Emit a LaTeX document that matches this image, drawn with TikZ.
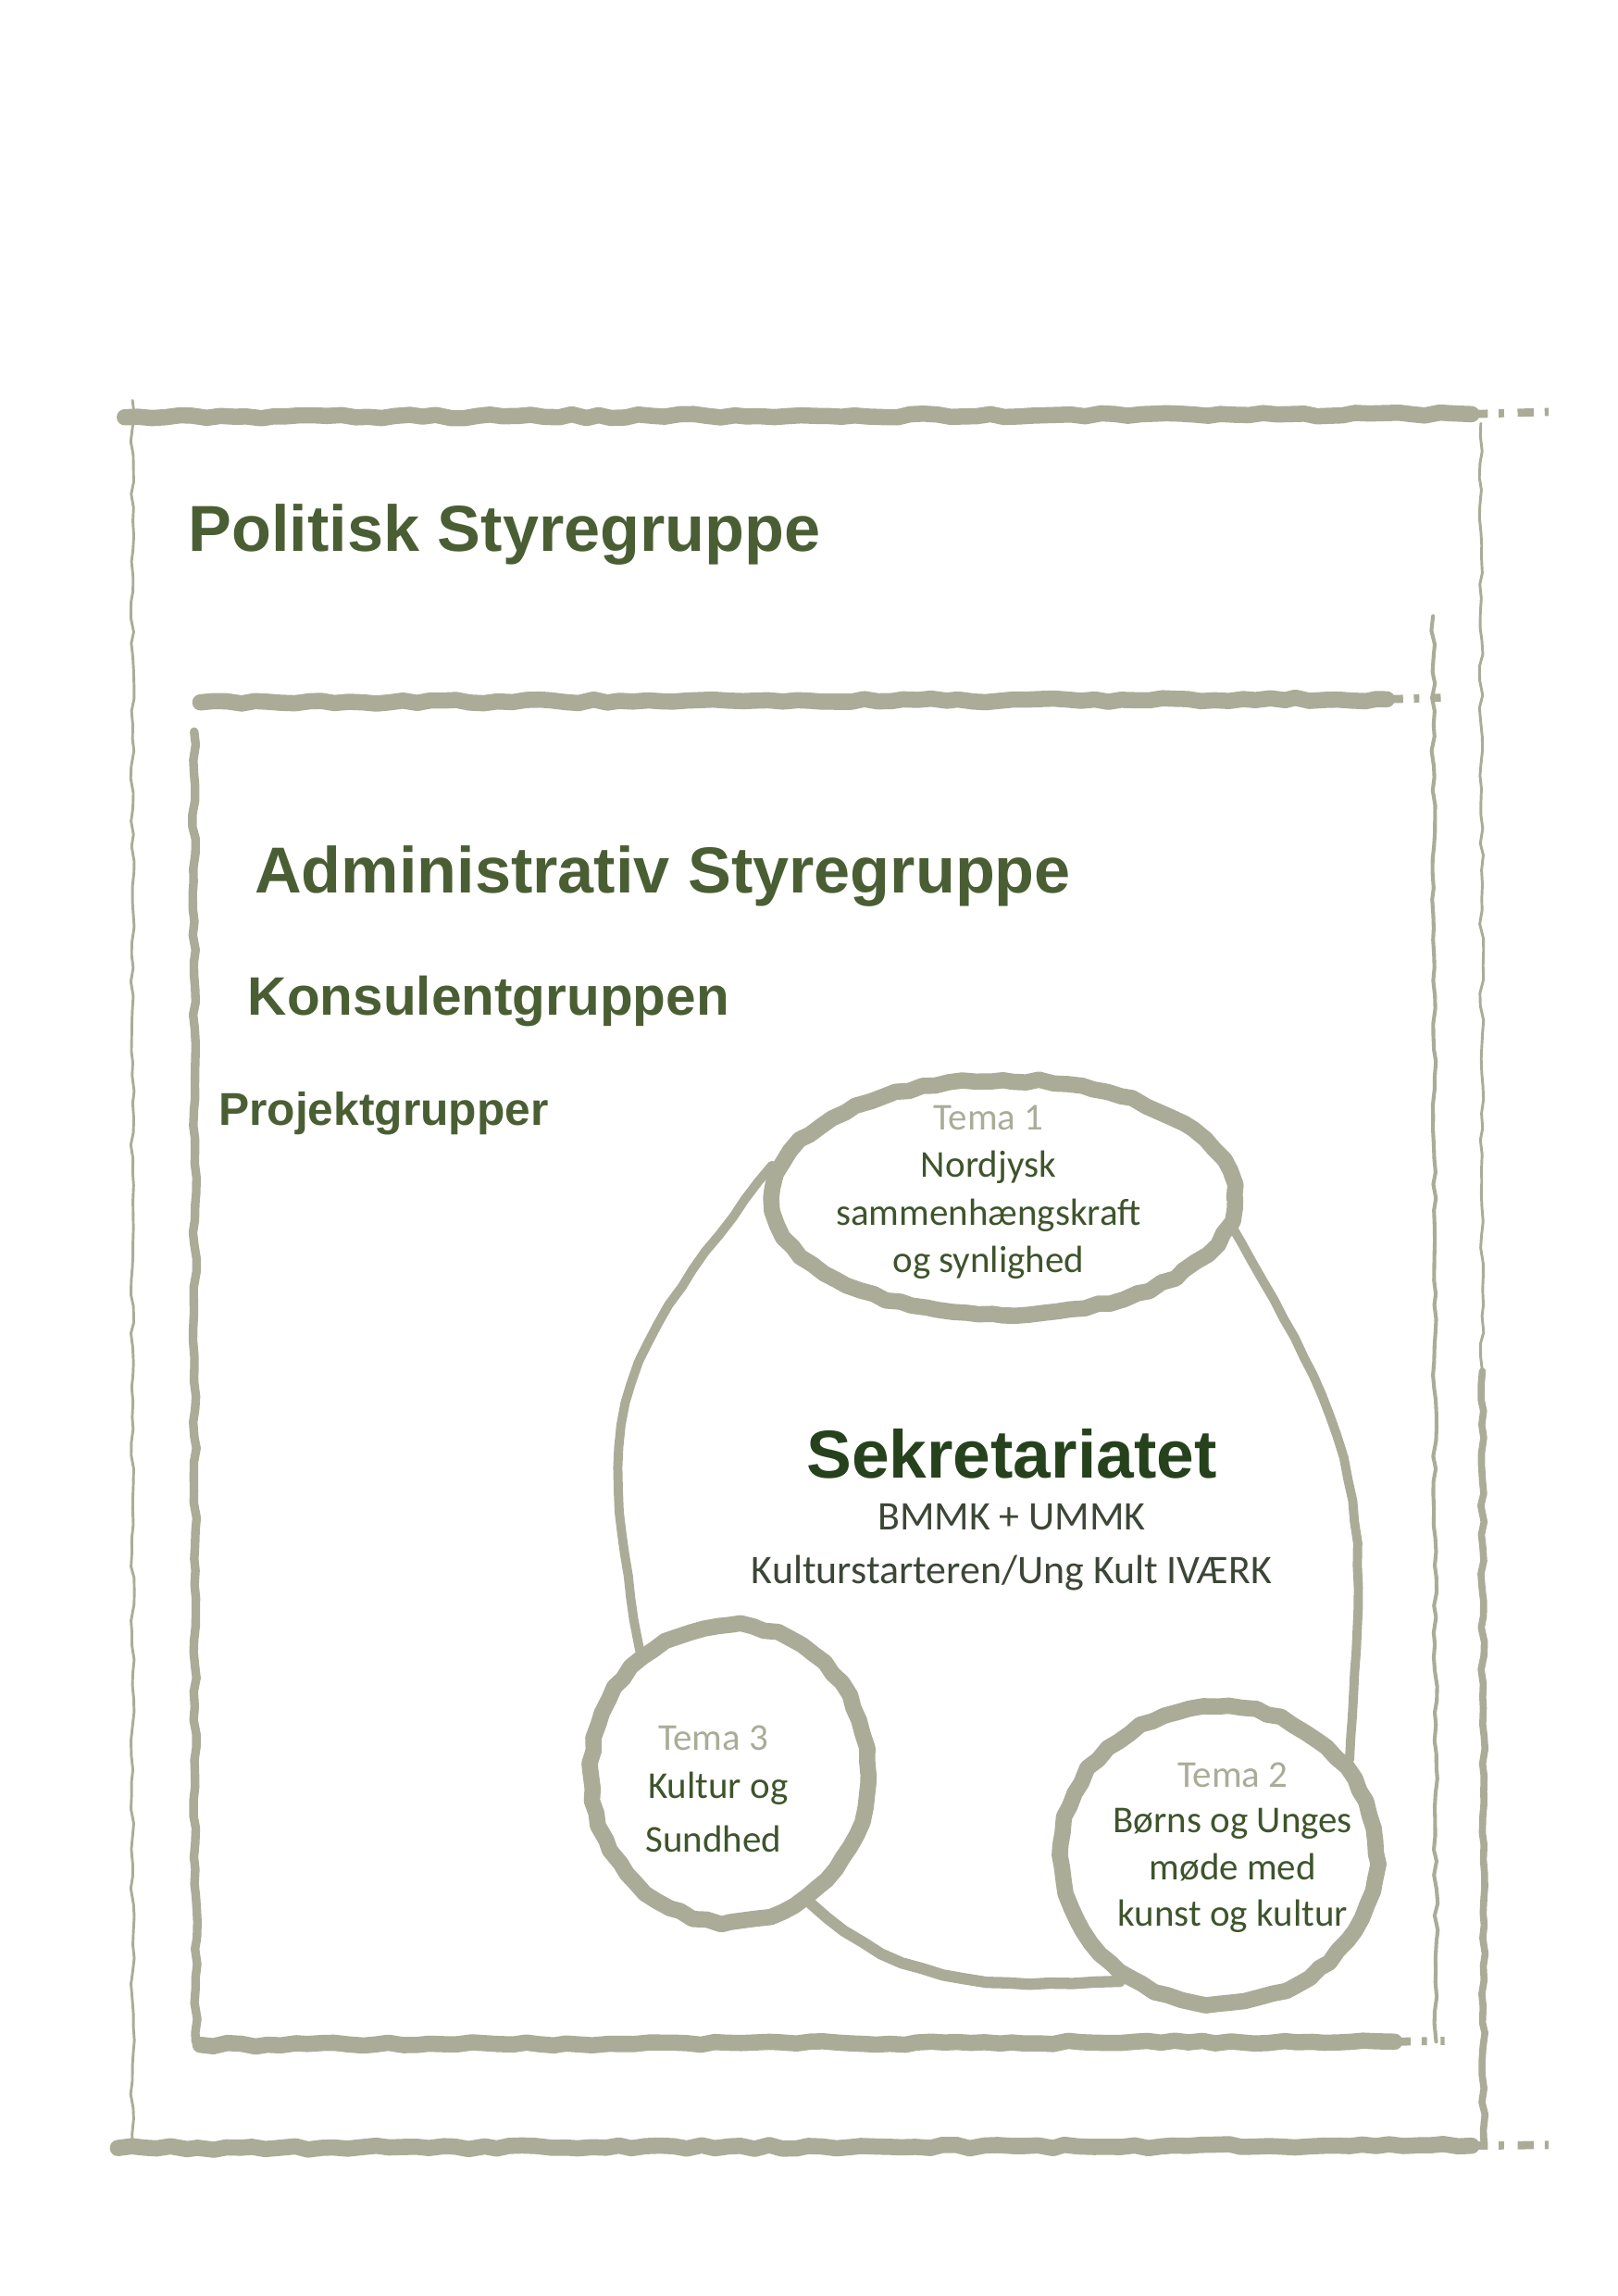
\documentclass[tikz,border=0pt]{standalone}
\usepackage{fontspec}
\setmainfont{Carlito}
\newfontfamily\arialfont{Liberation Sans}
\usetikzlibrary{shapes.geometric,decorations.pathmorphing}

\definecolor{brushgray}{RGB}{170,172,152}
\definecolor{titlegreen}{RGB}{74,94,52}
\definecolor{secgreen}{RGB}{38,66,28}
\definecolor{temagreen}{RGB}{62,84,44}
\definecolor{secgray}{RGB}{60,70,55}

\tikzset{
  brush/.style={draw=brushgray, line width=#1, line cap=round, line join=round,
    decorate, decoration={random steps, segment length=5pt, amplitude=0.7pt}},
  brushtail/.style={draw=brushgray, line width=#1, dash pattern=on 6pt off 4pt on 2pt off 5pt},
  title/.style={anchor=base west, text=titlegreen, font=\arialfont\bfseries\fontsize{24}{28}\selectfont, inner sep=0pt},
  tema/.style={ellipse, brush=#1, inner sep=0pt},
  temalabel/.style={anchor=base, text=brushgray, font=\fontsize{14}{17}\selectfont, inner sep=0pt},
  temaline/.style={anchor=base, text=temagreen, font=\fontsize{14}{17}\selectfont, inner sep=0pt},
  secline/.style={anchor=base, text=secgray, font=\fontsize{15}{18}\selectfont, inner sep=0pt},
  egg/.style={draw=brushgray, line width=#1, line cap=round,
    decorate, decoration={random steps, segment length=8pt, amplitude=0.35pt}}
}

\begin{document}
\begin{tikzpicture}
		\pgfmathsetseed{7}
		\useasboundingbox (0,0) rectangle (21,29.795);

		% outer frame: Politisk Styregruppe
		\draw[brush=6pt] (1.62,24.38) -- (19.1,24.42);
		\draw[brushtail=3pt] (19.1,24.42) -- (20.1,24.45);
		\draw[brush=6pt] (1.53,1.92) -- (19.1,1.95);
		\draw[brushtail=3pt] (19.1,1.95) -- (20.1,1.96);
		\draw[brush=1pt] (1.72,24.6) -- (1.72,1.9);
		\draw[brush=1pt] (19.22,24.3) -- (19.24,12);
		\draw[brush=2.6pt] (19.24,12) -- (19.26,2.0);

		% inner frame: Administrativ Styregruppe
		\draw[brush=6pt] (2.6,20.68) -- (18.0,20.72);
		\draw[brushtail=3pt] (18.0,20.72) -- (18.7,20.74);
		\draw[brush=6pt] (2.6,3.26) -- (18.1,3.3);
		\draw[brushtail=3pt] (18.1,3.3) -- (18.75,3.31);
		\draw[brush=3.2pt] (2.52,20.3) -- (2.54,3.3);
		\draw[brush=1.4pt] (18.6,21.8) -- (18.64,3.3);

		\node[title] (pol) at (2.44,22.64) {Politisk Styregruppe};
		\node[title] (adm) at (3.30,18.21) {Administrativ Styregruppe};
		\node[title, font=\arialfont\bfseries\fontsize{20}{24}\selectfont] (kon) at (3.21,16.62) {Konsulentgruppen};
		\node[title, font=\arialfont\bfseries\fontsize{17}{20}\selectfont] (pro) at (2.83,15.19) {Projektgrupper};

		% temaer
		\node[tema=6pt, minimum width=6.0cm, minimum height=3.05cm] (t1) at (13.02,14.25) {};
		\node[tema=6pt, minimum width=3.6cm, minimum height=3.85cm] (t3) at (9.47,6.78) {};
		\node[tema=6pt, minimum width=4.1cm, minimum height=3.85cm] (t2) at (15.81,5.72) {};

		% sekretariatet
		\draw[egg=3.4pt] (t1.172) to[out=232, in=100, looseness=1.3] (t3.126);
		\draw[egg=4.2pt] (t3.302) to[out=-42, in=183, looseness=1.0] (t2.232);
		\draw[egg=3.4pt] (t2.36) to[out=86, in=-60, looseness=1.25] (t1.-8);

		\node[temalabel] (t1a) at (12.83,15.13) {Tema 1};
		\node[temaline] (t1b) at (12.83,14.52) {Nordjysk};
		\node[temaline] (t1c) at (12.83,13.89) {sammenhængskraft};
		\node[temaline] (t1d) at (12.83,13.28) {og synlighed};

		\node[temalabel] (t3a) at (9.26,7.08) {Tema 3};
		\node[temaline] (t3b) at (9.32,6.46) {Kultur og};
		\node[temaline] (t3c) at (9.26,5.76) {Sundhed};

		\node[temalabel] (t2a) at (16.0,6.60) {Tema 2};
		\node[temaline] (t2b) at (16.0,6.01) {Børns og Unges};
		\node[temaline] (t2c) at (16.0,5.40) {møde med};
		\node[temaline] (t2d) at (16.0,4.80) {kunst og kultur};

		\node[anchor=base, text=secgreen, font=\arialfont\bfseries\fontsize{25}{30}\selectfont, inner sep=0pt] (sek) at (13.13,10.61) {Sekretariatet};
		\node[secline] (sek1) at (13.13,9.94) {BMMK + UMMK};
		\node[secline] (sek2) at (13.13,9.25) {Kulturstarteren/Ung Kult IVÆRK};
		\end{tikzpicture}
\end{document}
